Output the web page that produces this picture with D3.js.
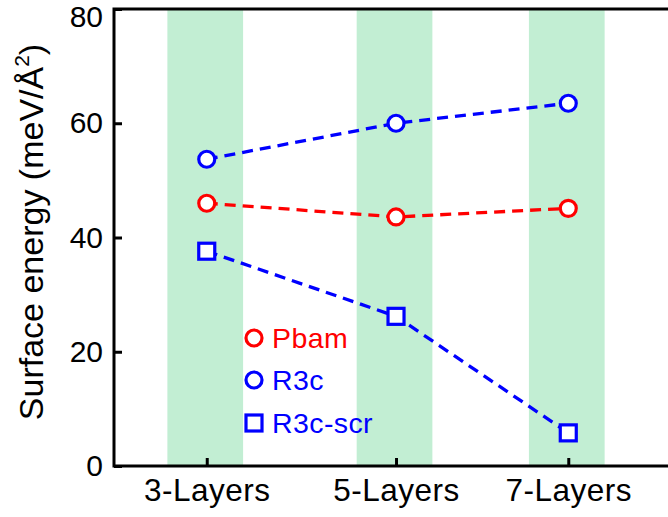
<!DOCTYPE html>
<html><head><meta charset="utf-8">
<script src="https://cdn.jsdelivr.net/npm/d3@7"></script>
<style>html,body{margin:0;padding:0;background:#fff;}svg{display:block;font-family:Arial,"Liberation Sans",Helvetica,sans-serif;}</style>
</head><body>
<svg id="chart" width="668" height="517"></svg>
<script>
// ---- data ----
const categories = ["3-Layers", "5-Layers", "7-Layers"];
const categoryPositions = [0, 1.0, 1.91];
const pbam = [46.0, 43.6, 45.1];
const r3c = [53.7, 60.0, 63.5];
const r3cScr = [37.6, 26.2, 5.8];
const yTicks = [0, 20, 40, 60, 80];
const seriesNames = ["Pbam", "R3c", "R3c-scr"];

(function () {
const series = [
  {name: seriesNames[0], values: pbam, color: "#ff0000", shape: "circle"},
  {name: seriesNames[1], values: r3c, color: "#0000ff", shape: "circle"},
  {name: seriesNames[2], values: r3cScr, color: "#0000ff", shape: "square"}
];

const svg = d3.select("#chart");
const mLeft = 114, mTop = 9, mBottom = 466, mRight = 672;

const x = d3.scaleLinear().domain([-0.49, 2.458]).range([mLeft, mRight]);
const y = d3.scaleLinear().domain([0, 80]).range([mBottom, mTop]);

// bands
const bandW = 0.4;
svg.append("g").selectAll("rect").data(categoryPositions).join("rect")
  .attr("x", d => x(d - bandW / 2) - 1.5)
  .attr("width", d => x(d + bandW / 2) - x(d - bandW / 2))
  .attr("y", mTop).attr("height", mBottom - mTop)
  .attr("fill", "#c2eed3");

// axes
const yAxis = d3.axisLeft(y).tickValues(yTicks).tickSizeInner(-8).tickSizeOuter(0).tickPadding(11);
const gy = svg.append("g").attr("transform", `translate(${mLeft},0)`).call(yAxis);
gy.select(".domain").remove();
gy.selectAll(".tick line").attr("stroke", "#000").attr("stroke-width", 3);
gy.selectAll(".tick text").attr("font-size", 30).attr("fill", "#000").attr("font-family", "Arial, 'Liberation Sans', sans-serif")
  .attr("y", d => Math.max(0, 17 - y(d)));

const xAxis = d3.axisBottom(x).tickValues(categoryPositions)
  .tickFormat((d, i) => categories[i]).tickSizeInner(-8).tickSizeOuter(0).tickPadding(13);
const gx = svg.append("g").attr("transform", `translate(0,${mBottom})`).call(xAxis);
gx.select(".domain").remove();
gx.selectAll(".tick line").attr("stroke", "#000").attr("stroke-width", 3);
gx.selectAll(".tick text").attr("font-size", 31.5).attr("fill", "#000").attr("letter-spacing", 0.5).attr("font-family", "Arial, 'Liberation Sans', sans-serif");

// frame lines (left, top, bottom)
svg.append("path")
  .attr("d", `M${mRight},${mTop}H${mLeft}V${mBottom}H${mRight}`)
  .attr("fill", "none").attr("stroke", "#000").attr("stroke-width", 3);

// y title
const title = svg.append("text")
  .attr("transform", `translate(43,232) rotate(-90)`)
  .attr("text-anchor", "middle").attr("font-size", 34).attr("fill", "#000");
title.append("tspan").text("Surface energy (meV/Å");
title.append("tspan").text("2").attr("font-size", 21).attr("dy", -14);
title.append("tspan").text(")").attr("dy", 14);

// lines
const line = d3.line().x((d, i) => x(categoryPositions[i])).y(d => y(d));
svg.append("g").selectAll("path").data(series).join("path")
  .attr("d", s => line(s.values))
  .attr("fill", "none").attr("stroke", s => s.color).attr("stroke-width", 3.3)
  .attr("stroke-dasharray", "11,7");

function drawMarker(g, shape, color, cx, cy) {
  if (shape === "circle") {
    g.append("circle").attr("cx", cx).attr("cy", cy).attr("r", 8)
      .attr("fill", "#fff").attr("stroke", color).attr("stroke-width", 3.2);
  } else {
    g.append("rect").attr("x", cx - 8).attr("y", cy - 8).attr("width", 16).attr("height", 16)
      .attr("fill", "#fff").attr("stroke", color).attr("stroke-width", 3.2);
  }
}
const mg = svg.append("g");
series.forEach(s => s.values.forEach((v, i) => drawMarker(mg, s.shape, s.color, x(categoryPositions[i]), y(v))));

// legend
const lg = svg.append("g");
const legendY = [338, 380, 423];
series.forEach((s, i) => {
  drawMarker(lg, s.shape, s.color, 254, legendY[i]);
  lg.append("text").attr("x", 272).attr("y", legendY[i] + 10)
    .attr("font-size", 28.5).attr("letter-spacing", 0.4).attr("fill", s.color).text(s.name);
});
})();
</script>
</body></html>
